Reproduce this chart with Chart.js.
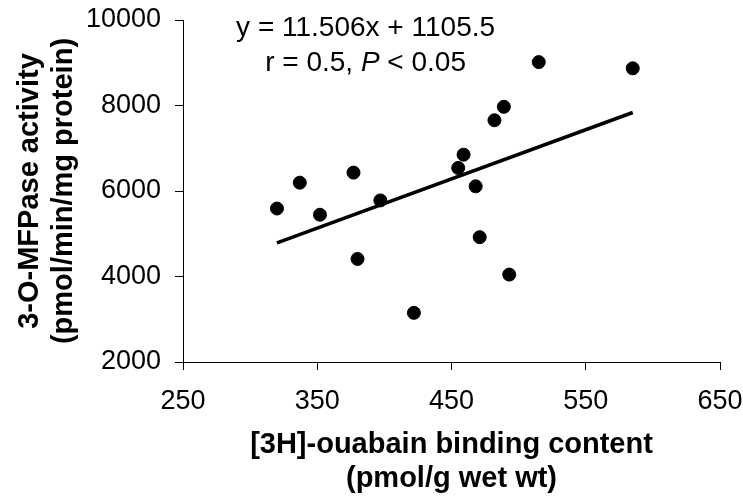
<!DOCTYPE html>
<html>
<head>
<meta charset="utf-8">
<script src="https://cdn.jsdelivr.net/npm/chart.js@4"></script>
<style>
    html, body { margin: 0; padding: 0; background: #fff; }
</style>
</head>
<body>
<canvas id="canvas" width="743" height="500"></canvas>
<script>
const ouabain = [320, 337, 352, 377, 380, 397, 422, 455, 459, 468, 471, 482, 489, 493, 515, 585];
const mfpase = [5590, 6195, 5445, 6430, 4410, 5780, 3150, 6540, 6850, 6110, 4920, 7655, 7970, 4045, 9015, 8870];

const slope = 11.506;
const intercept = 1105.5;
const fitX = [320, 585];

const xTicks = [250, 350, 450, 550, 650];
const yTicks = [2000, 4000, 6000, 8000, 10000];

const eqLine = 'y = 11.506x + 1105.5';
const statParts = ['r = 0.5, ', 'P', ' < 0.05'];

const points = ouabain.map(function (x, i) {
    return { x: x, y: mfpase[i] };
});
const fit = fitX.map(function (x) {
    return { x: x, y: slope * x + intercept };
});

const font = 'Liberation Sans, Arial, sans-serif';

const annotation = {
    id: 'annotation',
    afterDraw: function (chart) {
        const ctx = chart.ctx;
        const xs = chart.scales.x;
        const ys = chart.scales.y;
        const cx = xs.getPixelForValue(386);
        ctx.save();
        ctx.fillStyle = '#000';
        ctx.textBaseline = 'middle';
        ctx.textAlign = 'center';
        ctx.font = '28px ' + font;
        ctx.fillText(eqLine, cx, ys.getPixelForValue(9800));

        // second line, P in italics
        const styles = ['28px ', 'italic 28px ', '28px '];
        let total = 0;
        const widths = statParts.map(function (t, i) {
            ctx.font = styles[i] + font;
            const w = ctx.measureText(t).width;
            total += w;
            return w;
        });
        let x = cx - total / 2;
        const y2 = ys.getPixelForValue(8990);
        ctx.textAlign = 'left';
        statParts.forEach(function (t, i) {
            ctx.font = styles[i] + font;
            ctx.fillText(t, x, y2);
            x += widths[i];
        });
        ctx.restore();
    }
};

const config = {
    type: 'scatter',
    data: {
        datasets: [
            {
                label: 'data',
                data: points,
                backgroundColor: '#000',
                borderColor: '#000',
                pointRadius: 6.5,
                pointHoverRadius: 6.5,
            },
            {
                label: 'fit',
                type: 'line',
                data: fit,
                borderColor: '#000',
                borderWidth: 3.5,
                pointRadius: 0,
                fill: false,
            },
        ],
    },
    options: {
        responsive: false,
        animation: false,
        events: [],
        layout: { padding: { top: 20, right: 23, left: 0, bottom: 0 } },
        plugins: {
            legend: { display: false },
            tooltip: { enabled: false },
        },
        scales: {
            x: {
                type: 'linear',
                min: 250,
                max: 650,
                afterBuildTicks: function (s) {
                    s.ticks = xTicks.map(function (v) { return { value: v }; });
                },
                afterFit: function (s) {
                    s.height = 138;
                    s.paddingLeft = 0;
                    s.paddingRight = 0;
                },
                grid: { drawOnChartArea: false, color: '#000', tickLength: 8, lineWidth: 1 },
                border: { color: '#000', width: 1 },
                ticks: {
                    color: '#000', padding: 15, maxRotation: 0,
                    font: { family: font, size: 27 },
                    callback: function (v) { return String(v); },
                },
                title: {
                    display: true,
                    text: ['[3H]-ouabain binding content', '(pmol/g wet wt)'],
                    color: '#000',
                    padding: { top: 0, bottom: 4 },
                    font: { family: font, size: 29, weight: 'bold', lineHeight: 1.17 },
                },
            },
            y: {
                type: 'linear',
                min: 2000,
                max: 10000,
                afterBuildTicks: function (s) {
                    s.ticks = yTicks.map(function (v) { return { value: v }; });
                },
                afterFit: function (s) {
                    s.width = 183;
                    s.paddingTop = 0;
                    s.paddingBottom = 0;
                },
                grid: { drawOnChartArea: false, color: '#000', tickLength: 8, lineWidth: 1 },
                border: { color: '#000', width: 1 },
                ticks: {
                    color: '#000', padding: 14,
                    font: { family: font, size: 27 },
                    callback: function (v) { return String(v); },
                },
                title: {
                    display: true,
                    text: ['3-O-MFPase activity', '(pmol/min/mg protein)'],
                    color: '#000',
                    padding: { top: 13, bottom: 0 },
                    font: { family: font, size: 29, weight: 'bold', lineHeight: 1.17 },
                },
            },
        },
    },
    plugins: [annotation],
};

const canvas = document.getElementById('canvas');
const chart = new Chart(canvas, config);
</script>
</body>
</html>
